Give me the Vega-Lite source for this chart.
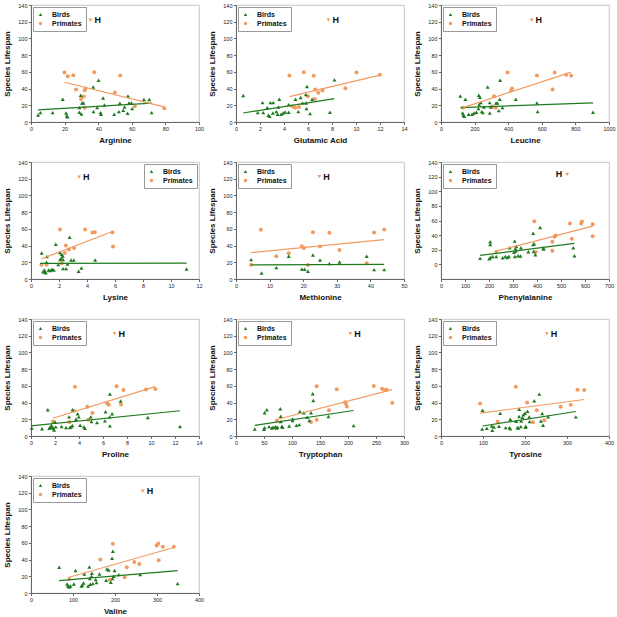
{
"$schema":"https://vega.github.io/schema/vega-lite/v6.json",
"padding":{"left":3,"top":2,"right":0,"bottom":0},
"background":"white",
"config":{
 "font":"Liberation Sans",
 "numberFormat":"d",
 "view":{"stroke":"#b8b8b8","strokeWidth":0.8},
 "axis":{"grid":false,"domainColor":"#666","tickColor":"#666","tickSize":2.5,"labelFontSize":5.5,"labelColor":"#222","labelFlush":false,"labelOverlap":false,"labelPadding":1.5,"titleFontSize":8,"titleFontWeight":"bold","titleColor":"#111"},
 "axisX":{"titlePadding":5},
 "axisY":{"titlePadding":6},
 "legend":{"strokeColor":"#999","fillColor":"white","padding":4,"labelFontSize":7,"labelFontWeight":"bold","labelColor":"#111","symbolSize":12,"rowPadding":1,"offset":2,"cornerRadius":0,"symbolOpacity":1,"labelOffset":8,"symbolStrokeWidth":0}
},
"datasets":{
"hum":[
{"panel":"Arginine","x":35.4,"y":122,"label":"H"},
{"panel":"Glutamic Acid","x":7.7,"y":122,"label":"H"},
{"panel":"Leucine","x":539,"y":122,"label":"H"},
{"panel":"Lysine","x":3.43,"y":122,"label":"H"},
{"panel":"Methionine","x":24.8,"y":122.5,"label":"H"},
{"panel":"Phenylalanine","x":526,"y":123,"label":"H"},
{"panel":"Proline","x":6.96,"y":122.5,"label":"H"},
{"panel":"Tryptophan","x":204,"y":122.5,"label":"H"},
{"panel":"Tyrosine","x":252,"y":122.3,"label":"H"},
{"panel":"Valine","x":266,"y":122,"label":"H"}
],
"trend":[
{"panel":"Arginine","group":"Birds","x":4.2,"y":14.5},{"panel":"Arginine","group":"Birds","x":72,"y":22.5},
{"panel":"Arginine","group":"Primates","x":19.9,"y":47.6},{"panel":"Arginine","group":"Primates","x":79.3,"y":18},
{"panel":"Glutamic Acid","group":"Birds","x":0.6,"y":10.8},{"panel":"Glutamic Acid","group":"Birds","x":8.2,"y":28},
{"panel":"Glutamic Acid","group":"Primates","x":4.45,"y":30.4},{"panel":"Glutamic Acid","group":"Primates","x":12,"y":56},
{"panel":"Leucine","group":"Birds","x":115,"y":17.2},{"panel":"Leucine","group":"Birds","x":905,"y":22.8},
{"panel":"Leucine","group":"Primates","x":131,"y":17.2},{"panel":"Leucine","group":"Primates","x":775,"y":59.6},
{"panel":"Lysine","group":"Birds","x":0.64,"y":18.6},{"panel":"Lysine","group":"Birds","x":11.11,"y":19},
{"panel":"Lysine","group":"Primates","x":0.74,"y":24},{"panel":"Lysine","group":"Primates","x":5.82,"y":56.8},
{"panel":"Methionine","group":"Birds","x":4.5,"y":16.8},{"panel":"Methionine","group":"Birds","x":44.1,"y":17.6},
{"panel":"Methionine","group":"Primates","x":4.5,"y":31.6},{"panel":"Methionine","group":"Primates","x":44.1,"y":47.2},
{"panel":"Phenylalanine","group":"Birds","x":163,"y":12.3},{"panel":"Phenylalanine","group":"Birds","x":556,"y":28.6},
{"panel":"Phenylalanine","group":"Primates","x":230,"y":18.2},{"panel":"Phenylalanine","group":"Primates","x":632,"y":52.3},
{"panel":"Proline","group":"Birds","x":0,"y":12},{"panel":"Proline","group":"Birds","x":12.42,"y":30.2},
{"panel":"Proline","group":"Primates","x":1.83,"y":21.3},{"panel":"Proline","group":"Primates","x":10.36,"y":59.1},
{"panel":"Tryptophan","group":"Birds","x":33.5,"y":12.8},{"panel":"Tryptophan","group":"Birds","x":210,"y":30.5},
{"panel":"Tryptophan","group":"Primates","x":73,"y":19.7},{"panel":"Tryptophan","group":"Primates","x":279,"y":55.4},
{"panel":"Tyrosine","group":"Birds","x":99,"y":12},{"panel":"Tyrosine","group":"Birds","x":321,"y":29.3},
{"panel":"Tyrosine","group":"Primates","x":93,"y":27.3},{"panel":"Tyrosine","group":"Primates","x":341,"y":43.7},
{"panel":"Valine","group":"Birds","x":67,"y":14.8},{"panel":"Valine","group":"Birds","x":349,"y":26.8},
{"panel":"Valine","group":"Primates","x":91,"y":18.8},{"panel":"Valine","group":"Primates","x":340,"y":54.4}
],
"pts":[
{"panel":"Arginine","group":"Primates","x":19.9,"y":59.2},{"panel":"Arginine","group":"Primates","x":21.9,"y":54.8},{"panel":"Arginine","group":"Primates","x":25.2,"y":56},{"panel":"Arginine","group":"Primates","x":26.8,"y":38.8},{"panel":"Arginine","group":"Primates","x":37.6,"y":59.6},{"panel":"Arginine","group":"Primates","x":29.8,"y":27.6},{"panel":"Arginine","group":"Primates","x":31.4,"y":30.4},{"panel":"Arginine","group":"Primates","x":32,"y":38},{"panel":"Arginine","group":"Primates","x":32.4,"y":40},{"panel":"Arginine","group":"Primates","x":32,"y":17.2},{"panel":"Arginine","group":"Primates","x":53.1,"y":55.6},{"panel":"Arginine","group":"Primates","x":49.9,"y":35.2},{"panel":"Arginine","group":"Primates","x":61.8,"y":18.8},{"panel":"Arginine","group":"Primates","x":79.3,"y":16.4},
{"panel":"Arginine","group":"Birds","x":4.2,"y":8.4},{"panel":"Arginine","group":"Birds","x":5.6,"y":11.2},{"panel":"Arginine","group":"Birds","x":12.9,"y":11.2},{"panel":"Arginine","group":"Birds","x":18.9,"y":27.2},{"panel":"Arginine","group":"Birds","x":20.9,"y":10.8},{"panel":"Arginine","group":"Birds","x":21.3,"y":7.6},{"panel":"Arginine","group":"Birds","x":21.7,"y":6.4},{"panel":"Arginine","group":"Birds","x":28.8,"y":11.6},{"panel":"Arginine","group":"Birds","x":29.6,"y":32},{"panel":"Arginine","group":"Birds","x":30,"y":9.6},{"panel":"Arginine","group":"Birds","x":30.4,"y":22.8},{"panel":"Arginine","group":"Birds","x":31.2,"y":22.8},{"panel":"Arginine","group":"Birds","x":28.8,"y":17.2},{"panel":"Arginine","group":"Birds","x":37,"y":42},{"panel":"Arginine","group":"Birds","x":37.2,"y":12.4},{"panel":"Arginine","group":"Birds","x":40.2,"y":50},{"panel":"Arginine","group":"Birds","x":39.4,"y":17.2},{"panel":"Arginine","group":"Birds","x":41.4,"y":11.2},{"panel":"Arginine","group":"Birds","x":41.7,"y":9.2},{"panel":"Arginine","group":"Birds","x":42.9,"y":28.8},{"panel":"Arginine","group":"Birds","x":43.7,"y":20.4},{"panel":"Arginine","group":"Birds","x":49.5,"y":9.2},{"panel":"Arginine","group":"Birds","x":52.3,"y":12.4},{"panel":"Arginine","group":"Birds","x":52.9,"y":22.4},{"panel":"Arginine","group":"Birds","x":54.9,"y":14},{"panel":"Arginine","group":"Birds","x":55.7,"y":18},{"panel":"Arginine","group":"Birds","x":57.7,"y":31.2},{"panel":"Arginine","group":"Birds","x":57.5,"y":10.4},{"panel":"Arginine","group":"Birds","x":58.3,"y":22.8},{"panel":"Arginine","group":"Birds","x":59.8,"y":22.8},{"panel":"Arginine","group":"Birds","x":60.2,"y":16},{"panel":"Arginine","group":"Birds","x":67.2,"y":26.8},{"panel":"Arginine","group":"Birds","x":70.4,"y":26.8},{"panel":"Arginine","group":"Birds","x":71.8,"y":11.2},
{"panel":"Glutamic Acid","group":"Primates","x":4.45,"y":55.6},{"panel":"Glutamic Acid","group":"Primates","x":5.65,"y":59.6},{"panel":"Glutamic Acid","group":"Primates","x":6.48,"y":55.2},{"panel":"Glutamic Acid","group":"Primates","x":10.04,"y":59.2},{"panel":"Glutamic Acid","group":"Primates","x":11.99,"y":56.4},{"panel":"Glutamic Acid","group":"Primates","x":9.12,"y":40.4},{"panel":"Glutamic Acid","group":"Primates","x":6.85,"y":35},{"panel":"Glutamic Acid","group":"Primates","x":6.6,"y":38.8},{"panel":"Glutamic Acid","group":"Primates","x":7.2,"y":37.6},{"panel":"Glutamic Acid","group":"Primates","x":6.0,"y":30.8},{"panel":"Glutamic Acid","group":"Primates","x":6.57,"y":27.6},{"panel":"Glutamic Acid","group":"Primates","x":4.68,"y":18.8},{"panel":"Glutamic Acid","group":"Primates","x":4.93,"y":17.2},{"panel":"Glutamic Acid","group":"Primates","x":5.25,"y":18},
{"panel":"Glutamic Acid","group":"Birds","x":0.6,"y":31.6},{"panel":"Glutamic Acid","group":"Birds","x":1.81,"y":11.2},{"panel":"Glutamic Acid","group":"Birds","x":2.21,"y":23.2},{"panel":"Glutamic Acid","group":"Birds","x":2.27,"y":11.2},{"panel":"Glutamic Acid","group":"Birds","x":2.61,"y":17.2},{"panel":"Glutamic Acid","group":"Birds","x":2.7,"y":8},{"panel":"Glutamic Acid","group":"Birds","x":2.81,"y":6.8},{"panel":"Glutamic Acid","group":"Birds","x":2.87,"y":23.2},{"panel":"Glutamic Acid","group":"Birds","x":3.1,"y":23.2},{"panel":"Glutamic Acid","group":"Birds","x":3.07,"y":10.8},{"panel":"Glutamic Acid","group":"Birds","x":3.36,"y":12.4},{"panel":"Glutamic Acid","group":"Birds","x":3.47,"y":9.2},{"panel":"Glutamic Acid","group":"Birds","x":3.53,"y":18},{"panel":"Glutamic Acid","group":"Birds","x":3.61,"y":27.2},{"panel":"Glutamic Acid","group":"Birds","x":3.76,"y":9.2},{"panel":"Glutamic Acid","group":"Birds","x":3.93,"y":10.8},{"panel":"Glutamic Acid","group":"Birds","x":4.1,"y":12},{"panel":"Glutamic Acid","group":"Birds","x":4.39,"y":11.6},{"panel":"Glutamic Acid","group":"Birds","x":4.39,"y":20.8},{"panel":"Glutamic Acid","group":"Birds","x":4.96,"y":27.2},{"panel":"Glutamic Acid","group":"Birds","x":5.19,"y":12.4},{"panel":"Glutamic Acid","group":"Birds","x":5.39,"y":29.2},{"panel":"Glutamic Acid","group":"Birds","x":5.54,"y":22.8},{"panel":"Glutamic Acid","group":"Birds","x":5.82,"y":32.8},{"panel":"Glutamic Acid","group":"Birds","x":5.91,"y":42.4},{"panel":"Glutamic Acid","group":"Birds","x":5.88,"y":16},{"panel":"Glutamic Acid","group":"Birds","x":5.85,"y":22.8},{"panel":"Glutamic Acid","group":"Birds","x":6.17,"y":10},{"panel":"Glutamic Acid","group":"Birds","x":6.34,"y":27.2},{"panel":"Glutamic Acid","group":"Birds","x":8.2,"y":50.4},{"panel":"Glutamic Acid","group":"Birds","x":7.83,"y":11.6},
{"panel":"Leucine","group":"Primates","x":131,"y":17.2},{"panel":"Leucine","group":"Primates","x":316,"y":30.8},{"panel":"Leucine","group":"Primates","x":306,"y":18.5},{"panel":"Leucine","group":"Primates","x":326,"y":17.2},{"panel":"Leucine","group":"Primates","x":396,"y":59.2},{"panel":"Leucine","group":"Primates","x":417,"y":37.6},{"panel":"Leucine","group":"Primates","x":423,"y":40},{"panel":"Leucine","group":"Primates","x":571,"y":55.6},{"panel":"Leucine","group":"Primates","x":676,"y":59.2},{"panel":"Leucine","group":"Primates","x":664,"y":38.8},{"panel":"Leucine","group":"Primates","x":746,"y":56.4},{"panel":"Leucine","group":"Primates","x":775,"y":55.2},
{"panel":"Leucine","group":"Birds","x":115,"y":31.2},{"panel":"Leucine","group":"Birds","x":145,"y":27.2},{"panel":"Leucine","group":"Birds","x":129,"y":10.8},{"panel":"Leucine","group":"Birds","x":133,"y":8},{"panel":"Leucine","group":"Birds","x":139,"y":6.8},{"panel":"Leucine","group":"Birds","x":165,"y":9.2},{"panel":"Leucine","group":"Birds","x":185,"y":9.2},{"panel":"Leucine","group":"Birds","x":197,"y":10.8},{"panel":"Leucine","group":"Birds","x":211,"y":11.6},{"panel":"Leucine","group":"Birds","x":223,"y":16},{"panel":"Leucine","group":"Birds","x":227,"y":20.8},{"panel":"Leucine","group":"Birds","x":225,"y":32},{"panel":"Leucine","group":"Birds","x":232,"y":29.6},{"panel":"Leucine","group":"Birds","x":237,"y":23.2},{"panel":"Leucine","group":"Birds","x":243,"y":12.4},{"panel":"Leucine","group":"Birds","x":249,"y":11.2},{"panel":"Leucine","group":"Birds","x":256,"y":18},{"panel":"Leucine","group":"Birds","x":278,"y":42},{"panel":"Leucine","group":"Birds","x":290,"y":23.2},{"panel":"Leucine","group":"Birds","x":296,"y":18},{"panel":"Leucine","group":"Birds","x":290,"y":10.8},{"panel":"Leucine","group":"Birds","x":328,"y":22.8},{"panel":"Leucine","group":"Birds","x":336,"y":22.8},{"panel":"Leucine","group":"Birds","x":344,"y":13.6},{"panel":"Leucine","group":"Birds","x":350,"y":27.2},{"panel":"Leucine","group":"Birds","x":352,"y":50},{"panel":"Leucine","group":"Birds","x":366,"y":17.2},{"panel":"Leucine","group":"Birds","x":445,"y":27.2},{"panel":"Leucine","group":"Birds","x":571,"y":22.8},{"panel":"Leucine","group":"Birds","x":575,"y":12.4},{"panel":"Leucine","group":"Birds","x":905,"y":11.6},
{"panel":"Lysine","group":"Primates","x":0.74,"y":17.2},{"panel":"Lysine","group":"Primates","x":1.11,"y":17.2},{"panel":"Lysine","group":"Primates","x":2.07,"y":59.2},{"panel":"Lysine","group":"Primates","x":2.19,"y":18.8},{"panel":"Lysine","group":"Primates","x":2.41,"y":31.2},{"panel":"Lysine","group":"Primates","x":2.49,"y":40},{"panel":"Lysine","group":"Primates","x":2.71,"y":35.2},{"panel":"Lysine","group":"Primates","x":3.08,"y":37.2},{"panel":"Lysine","group":"Primates","x":3.87,"y":59.2},{"panel":"Lysine","group":"Primates","x":4.39,"y":55.6},{"panel":"Lysine","group":"Primates","x":4.56,"y":56},{"panel":"Lysine","group":"Primates","x":5.82,"y":55.6},{"panel":"Lysine","group":"Primates","x":5.86,"y":38.8},
{"panel":"Lysine","group":"Birds","x":0.76,"y":31.2},{"panel":"Lysine","group":"Birds","x":0.86,"y":8.8},{"panel":"Lysine","group":"Birds","x":0.96,"y":10.8},{"panel":"Lysine","group":"Birds","x":1.01,"y":8.4},{"panel":"Lysine","group":"Birds","x":1.11,"y":20},{"panel":"Lysine","group":"Birds","x":1.13,"y":26.8},{"panel":"Lysine","group":"Birds","x":1.06,"y":7.6},{"panel":"Lysine","group":"Birds","x":1.26,"y":10.8},{"panel":"Lysine","group":"Birds","x":1.38,"y":10},{"panel":"Lysine","group":"Birds","x":1.5,"y":11.6},{"panel":"Lysine","group":"Birds","x":1.63,"y":10.8},{"panel":"Lysine","group":"Birds","x":1.77,"y":41.6},{"panel":"Lysine","group":"Birds","x":1.95,"y":17.2},{"panel":"Lysine","group":"Birds","x":2.07,"y":23.2},{"panel":"Lysine","group":"Birds","x":2.07,"y":31.6},{"panel":"Lysine","group":"Birds","x":2.19,"y":29.6},{"panel":"Lysine","group":"Birds","x":2.27,"y":27.6},{"panel":"Lysine","group":"Birds","x":2.17,"y":25.2},{"panel":"Lysine","group":"Birds","x":2.29,"y":23.2},{"panel":"Lysine","group":"Birds","x":2.29,"y":12.4},{"panel":"Lysine","group":"Birds","x":2.51,"y":12.4},{"panel":"Lysine","group":"Birds","x":2.61,"y":18},{"panel":"Lysine","group":"Birds","x":2.76,"y":50},{"panel":"Lysine","group":"Birds","x":2.86,"y":22.8},{"panel":"Lysine","group":"Birds","x":3.06,"y":22.8},{"panel":"Lysine","group":"Birds","x":3.4,"y":9.2},{"panel":"Lysine","group":"Birds","x":3.6,"y":13.2},{"panel":"Lysine","group":"Birds","x":4.58,"y":22.8},{"panel":"Lysine","group":"Birds","x":11.11,"y":12},
{"panel":"Methionine","group":"Primates","x":4.5,"y":17.2},{"panel":"Methionine","group":"Primates","x":7.4,"y":58.8},{"panel":"Methionine","group":"Primates","x":12,"y":27.2},{"panel":"Methionine","group":"Primates","x":15.7,"y":30.8},{"panel":"Methionine","group":"Primates","x":19.6,"y":39.2},{"panel":"Methionine","group":"Primates","x":20.2,"y":37.2},{"panel":"Methionine","group":"Primates","x":21.4,"y":16.8},{"panel":"Methionine","group":"Primates","x":22.9,"y":56},{"panel":"Methionine","group":"Primates","x":25,"y":38.8},{"panel":"Methionine","group":"Primates","x":27.8,"y":55.2},{"panel":"Methionine","group":"Primates","x":30.8,"y":34.8},{"panel":"Methionine","group":"Primates","x":38.9,"y":18.8},{"panel":"Methionine","group":"Primates","x":41.1,"y":55.6},{"panel":"Methionine","group":"Primates","x":44.1,"y":59.2},
{"panel":"Methionine","group":"Birds","x":4.5,"y":23.2},{"panel":"Methionine","group":"Birds","x":7.6,"y":7.2},{"panel":"Methionine","group":"Birds","x":12,"y":13.6},{"panel":"Methionine","group":"Birds","x":15.7,"y":27.2},{"panel":"Methionine","group":"Birds","x":19.6,"y":12},{"panel":"Methionine","group":"Birds","x":20.4,"y":11.6},{"panel":"Methionine","group":"Birds","x":21.4,"y":9.2},{"panel":"Methionine","group":"Birds","x":22.9,"y":28.8},{"panel":"Methionine","group":"Birds","x":25,"y":22.8},{"panel":"Methionine","group":"Birds","x":27.8,"y":18.4},{"panel":"Methionine","group":"Birds","x":30.8,"y":20.4},{"panel":"Methionine","group":"Birds","x":38.9,"y":27.2},{"panel":"Methionine","group":"Birds","x":41.1,"y":11.2},{"panel":"Methionine","group":"Birds","x":44.1,"y":11.2},
{"panel":"Phenylalanine","group":"Primates","x":230,"y":16.8},{"panel":"Phenylalanine","group":"Primates","x":389,"y":59.1},{"panel":"Phenylalanine","group":"Primates","x":395,"y":16.8},{"panel":"Phenylalanine","group":"Primates","x":464,"y":30.9},{"panel":"Phenylalanine","group":"Primates","x":464,"y":18.6},{"panel":"Phenylalanine","group":"Primates","x":473,"y":37.7},{"panel":"Phenylalanine","group":"Primates","x":478,"y":39.5},{"panel":"Phenylalanine","group":"Primates","x":537,"y":55.9},{"panel":"Phenylalanine","group":"Primates","x":545,"y":35},{"panel":"Phenylalanine","group":"Primates","x":584,"y":55.9},{"panel":"Phenylalanine","group":"Primates","x":587,"y":58.6},{"panel":"Phenylalanine","group":"Primates","x":632,"y":55},{"panel":"Phenylalanine","group":"Primates","x":632,"y":38.6},
{"panel":"Phenylalanine","group":"Birds","x":163,"y":8.2},{"panel":"Phenylalanine","group":"Birds","x":201,"y":7.7},{"panel":"Phenylalanine","group":"Birds","x":205,"y":9.5},{"panel":"Phenylalanine","group":"Birds","x":205,"y":30.9},{"panel":"Phenylalanine","group":"Birds","x":205,"y":27.3},{"panel":"Phenylalanine","group":"Birds","x":215,"y":10.9},{"panel":"Phenylalanine","group":"Birds","x":230,"y":10.9},{"panel":"Phenylalanine","group":"Birds","x":257,"y":9.1},{"panel":"Phenylalanine","group":"Birds","x":268,"y":10.9},{"panel":"Phenylalanine","group":"Birds","x":276,"y":9.5},{"panel":"Phenylalanine","group":"Birds","x":283,"y":10.9},{"panel":"Phenylalanine","group":"Birds","x":286,"y":22.7},{"panel":"Phenylalanine","group":"Birds","x":304,"y":16.4},{"panel":"Phenylalanine","group":"Birds","x":307,"y":31.8},{"panel":"Phenylalanine","group":"Birds","x":308,"y":10.9},{"panel":"Phenylalanine","group":"Birds","x":310,"y":21.4},{"panel":"Phenylalanine","group":"Birds","x":312,"y":18.2},{"panel":"Phenylalanine","group":"Birds","x":314,"y":24.5},{"panel":"Phenylalanine","group":"Birds","x":321,"y":11.8},{"panel":"Phenylalanine","group":"Birds","x":331,"y":11.4},{"panel":"Phenylalanine","group":"Birds","x":333,"y":22.7},{"panel":"Phenylalanine","group":"Birds","x":364,"y":17.3},{"panel":"Phenylalanine","group":"Birds","x":384,"y":27.3},{"panel":"Phenylalanine","group":"Birds","x":388,"y":28.2},{"panel":"Phenylalanine","group":"Birds","x":384,"y":42.7},{"panel":"Phenylalanine","group":"Birds","x":386,"y":17.7},{"panel":"Phenylalanine","group":"Birds","x":393,"y":13.2},{"panel":"Phenylalanine","group":"Birds","x":413,"y":50.5},{"panel":"Phenylalanine","group":"Birds","x":427,"y":22.3},{"panel":"Phenylalanine","group":"Birds","x":427,"y":20.9},{"panel":"Phenylalanine","group":"Birds","x":551,"y":22.7},{"panel":"Phenylalanine","group":"Birds","x":556,"y":11.8},
{"panel":"Proline","group":"Primates","x":1.83,"y":17.3},{"panel":"Proline","group":"Primates","x":3.66,"y":59},{"panel":"Proline","group":"Primates","x":3.58,"y":30.2},{"panel":"Proline","group":"Primates","x":3.2,"y":16.9},{"panel":"Proline","group":"Primates","x":4.7,"y":35},{"panel":"Proline","group":"Primates","x":4.78,"y":19.3},{"panel":"Proline","group":"Primates","x":5.12,"y":27.4},{"panel":"Proline","group":"Primates","x":6.33,"y":39.4},{"panel":"Proline","group":"Primates","x":6.47,"y":37.4},{"panel":"Proline","group":"Primates","x":7.13,"y":59.5},{"panel":"Proline","group":"Primates","x":7.5,"y":37.8},{"panel":"Proline","group":"Primates","x":7.7,"y":55.1},{"panel":"Proline","group":"Primates","x":9.59,"y":55.5},{"panel":"Proline","group":"Primates","x":10.36,"y":56.3},
{"panel":"Proline","group":"Birds","x":0.06,"y":9.7},{"panel":"Proline","group":"Birds","x":0.92,"y":8.8},{"panel":"Proline","group":"Birds","x":1.4,"y":31.4},{"panel":"Proline","group":"Birds","x":1.52,"y":9.3},{"panel":"Proline","group":"Birds","x":1.6,"y":10.5},{"panel":"Proline","group":"Birds","x":1.69,"y":12.5},{"panel":"Proline","group":"Birds","x":1.77,"y":10.9},{"panel":"Proline","group":"Birds","x":1.86,"y":9.3},{"panel":"Proline","group":"Birds","x":1.92,"y":7.2},{"panel":"Proline","group":"Birds","x":2.0,"y":16.9},{"panel":"Proline","group":"Birds","x":2.06,"y":10.9},{"panel":"Proline","group":"Birds","x":2.55,"y":11.3},{"panel":"Proline","group":"Birds","x":2.92,"y":10.1},{"panel":"Proline","group":"Birds","x":3.18,"y":22.9},{"panel":"Proline","group":"Birds","x":3.23,"y":10.1},{"panel":"Proline","group":"Birds","x":3.35,"y":10.9},{"panel":"Proline","group":"Birds","x":3.46,"y":31.4},{"panel":"Proline","group":"Birds","x":3.44,"y":12.5},{"panel":"Proline","group":"Birds","x":3.75,"y":20.1},{"panel":"Proline","group":"Birds","x":3.89,"y":26.5},{"panel":"Proline","group":"Birds","x":3.98,"y":22.9},{"panel":"Proline","group":"Birds","x":4.09,"y":12.9},{"panel":"Proline","group":"Birds","x":4.41,"y":10.9},{"panel":"Proline","group":"Birds","x":4.49,"y":9.3},{"panel":"Proline","group":"Birds","x":4.98,"y":22.9},{"panel":"Proline","group":"Birds","x":5.04,"y":17.3},{"panel":"Proline","group":"Birds","x":5.5,"y":16.1},{"panel":"Proline","group":"Birds","x":6.16,"y":18.1},{"panel":"Proline","group":"Birds","x":6.21,"y":29},{"panel":"Proline","group":"Birds","x":6.56,"y":22.9},{"panel":"Proline","group":"Birds","x":6.58,"y":50.3},{"panel":"Proline","group":"Birds","x":6.58,"y":12.1},{"panel":"Proline","group":"Birds","x":6.76,"y":26.5},{"panel":"Proline","group":"Birds","x":7.47,"y":41.8},{"panel":"Proline","group":"Birds","x":9.73,"y":22.1},{"panel":"Proline","group":"Birds","x":12.42,"y":11.3},
{"panel":"Tryptophan","group":"Primates","x":73,"y":18.5},{"panel":"Tryptophan","group":"Primates","x":144,"y":59.4},{"panel":"Tryptophan","group":"Primates","x":144,"y":19.3},{"panel":"Tryptophan","group":"Primates","x":134,"y":16.8},{"panel":"Tryptophan","group":"Primates","x":166,"y":30.9},{"panel":"Tryptophan","group":"Primates","x":180,"y":55.8},{"panel":"Tryptophan","group":"Primates","x":195,"y":40.5},{"panel":"Tryptophan","group":"Primates","x":196,"y":38.9},{"panel":"Tryptophan","group":"Primates","x":198,"y":35.3},{"panel":"Tryptophan","group":"Primates","x":246,"y":59.8},{"panel":"Tryptophan","group":"Primates","x":261,"y":56.6},{"panel":"Tryptophan","group":"Primates","x":266,"y":55},{"panel":"Tryptophan","group":"Primates","x":269,"y":55.4},{"panel":"Tryptophan","group":"Primates","x":279,"y":39.7},
{"panel":"Tryptophan","group":"Birds","x":33.5,"y":8.4},{"panel":"Tryptophan","group":"Birds","x":51,"y":10},{"panel":"Tryptophan","group":"Birds","x":50,"y":8},{"panel":"Tryptophan","group":"Birds","x":51,"y":27.7},{"panel":"Tryptophan","group":"Birds","x":55,"y":31.3},{"panel":"Tryptophan","group":"Birds","x":59,"y":11.2},{"panel":"Tryptophan","group":"Birds","x":64,"y":9.6},{"panel":"Tryptophan","group":"Birds","x":66,"y":10.4},{"panel":"Tryptophan","group":"Birds","x":70,"y":11.2},{"panel":"Tryptophan","group":"Birds","x":72,"y":9.6},{"panel":"Tryptophan","group":"Birds","x":74,"y":10.4},{"panel":"Tryptophan","group":"Birds","x":79,"y":32.5},{"panel":"Tryptophan","group":"Birds","x":80,"y":23.7},{"panel":"Tryptophan","group":"Birds","x":80,"y":17.2},{"panel":"Tryptophan","group":"Birds","x":82,"y":11.6},{"panel":"Tryptophan","group":"Birds","x":83,"y":10.4},{"panel":"Tryptophan","group":"Birds","x":95,"y":12},{"panel":"Tryptophan","group":"Birds","x":101,"y":20.5},{"panel":"Tryptophan","group":"Birds","x":101,"y":18.5},{"panel":"Tryptophan","group":"Birds","x":108,"y":12.8},{"panel":"Tryptophan","group":"Birds","x":113,"y":13.6},{"panel":"Tryptophan","group":"Birds","x":114,"y":29.3},{"panel":"Tryptophan","group":"Birds","x":121,"y":27.7},{"panel":"Tryptophan","group":"Birds","x":127,"y":22.5},{"panel":"Tryptophan","group":"Birds","x":131,"y":18.5},{"panel":"Tryptophan","group":"Birds","x":134,"y":27.7},{"panel":"Tryptophan","group":"Birds","x":137,"y":50.5},{"panel":"Tryptophan","group":"Birds","x":138,"y":42.5},{"panel":"Tryptophan","group":"Birds","x":165,"y":23.3},{"panel":"Tryptophan","group":"Birds","x":210,"y":12.4},
{"panel":"Tyrosine","group":"Primates","x":93,"y":38.9},{"panel":"Tyrosine","group":"Primates","x":135,"y":17.2},{"panel":"Tyrosine","group":"Primates","x":178,"y":59},{"panel":"Tyrosine","group":"Primates","x":205,"y":40.1},{"panel":"Tyrosine","group":"Primates","x":228,"y":30.9},{"panel":"Tyrosine","group":"Primates","x":219,"y":16.4},{"panel":"Tyrosine","group":"Primates","x":246,"y":18.9},{"panel":"Tyrosine","group":"Primates","x":285,"y":34.9},{"panel":"Tyrosine","group":"Primates","x":309,"y":37.3},{"panel":"Tyrosine","group":"Primates","x":325,"y":55.4},{"panel":"Tyrosine","group":"Primates","x":341,"y":55},
{"panel":"Tyrosine","group":"Birds","x":99,"y":30.9},{"panel":"Tyrosine","group":"Birds","x":98,"y":8.4},{"panel":"Tyrosine","group":"Birds","x":109,"y":9.2},{"panel":"Tyrosine","group":"Birds","x":121,"y":12},{"panel":"Tyrosine","group":"Birds","x":122,"y":6.8},{"panel":"Tyrosine","group":"Birds","x":126,"y":10.8},{"panel":"Tyrosine","group":"Birds","x":141,"y":27.3},{"panel":"Tyrosine","group":"Birds","x":138,"y":11.6},{"panel":"Tyrosine","group":"Birds","x":154,"y":10},{"panel":"Tyrosine","group":"Birds","x":163,"y":10},{"panel":"Tyrosine","group":"Birds","x":165,"y":20.1},{"panel":"Tyrosine","group":"Birds","x":165,"y":8.8},{"panel":"Tyrosine","group":"Birds","x":179,"y":17.6},{"panel":"Tyrosine","group":"Birds","x":182,"y":10},{"panel":"Tyrosine","group":"Birds","x":184,"y":9.6},{"panel":"Tyrosine","group":"Birds","x":186,"y":32.1},{"panel":"Tyrosine","group":"Birds","x":186,"y":23.3},{"panel":"Tyrosine","group":"Birds","x":190,"y":11.2},{"panel":"Tyrosine","group":"Birds","x":191,"y":18},{"panel":"Tyrosine","group":"Birds","x":194,"y":22.1},{"panel":"Tyrosine","group":"Birds","x":196,"y":25.3},{"panel":"Tyrosine","group":"Birds","x":200,"y":27.3},{"panel":"Tyrosine","group":"Birds","x":201,"y":10.4},{"panel":"Tyrosine","group":"Birds","x":202,"y":11.6},{"panel":"Tyrosine","group":"Birds","x":206,"y":29.7},{"panel":"Tyrosine","group":"Birds","x":210,"y":22.9},{"panel":"Tyrosine","group":"Birds","x":211,"y":17.2},{"panel":"Tyrosine","group":"Birds","x":222,"y":42.1},{"panel":"Tyrosine","group":"Birds","x":234,"y":50.1},{"panel":"Tyrosine","group":"Birds","x":238,"y":18},{"panel":"Tyrosine","group":"Birds","x":241,"y":26.9},{"panel":"Tyrosine","group":"Birds","x":243,"y":12.8},{"panel":"Tyrosine","group":"Birds","x":255,"y":22.9},{"panel":"Tyrosine","group":"Birds","x":321,"y":22.9},
{"panel":"Valine","group":"Primates","x":91,"y":16.8},{"panel":"Valine","group":"Primates","x":165,"y":40},{"panel":"Valine","group":"Primates","x":195,"y":58.8},{"panel":"Valine","group":"Primates","x":188,"y":16},{"panel":"Valine","group":"Primates","x":228,"y":30.8},{"panel":"Valine","group":"Primates","x":223,"y":18.8},{"panel":"Valine","group":"Primates","x":246,"y":37.2},{"panel":"Valine","group":"Primates","x":258,"y":34.8},{"panel":"Valine","group":"Primates","x":299,"y":56.8},{"panel":"Valine","group":"Primates","x":303,"y":59.2},{"panel":"Valine","group":"Primates","x":304,"y":39.2},{"panel":"Valine","group":"Primates","x":314,"y":55.2},{"panel":"Valine","group":"Primates","x":340,"y":55.2},
{"panel":"Valine","group":"Birds","x":67,"y":30.8},{"panel":"Valine","group":"Birds","x":86,"y":10.8},{"panel":"Valine","group":"Birds","x":88,"y":8.4},{"panel":"Valine","group":"Birds","x":91,"y":7.2},{"panel":"Valine","group":"Birds","x":94,"y":8.4},{"panel":"Valine","group":"Birds","x":102,"y":10.8},{"panel":"Valine","group":"Birds","x":106,"y":26.8},{"panel":"Valine","group":"Birds","x":120,"y":8.4},{"panel":"Valine","group":"Birds","x":122,"y":9.6},{"panel":"Valine","group":"Birds","x":125,"y":12},{"panel":"Valine","group":"Birds","x":127,"y":22.8},{"panel":"Valine","group":"Birds","x":136,"y":8.4},{"panel":"Valine","group":"Birds","x":139,"y":31.2},{"panel":"Valine","group":"Birds","x":140,"y":17.2},{"panel":"Valine","group":"Birds","x":141,"y":10.4},{"panel":"Valine","group":"Birds","x":144,"y":20},{"panel":"Valine","group":"Birds","x":145,"y":23.6},{"panel":"Valine","group":"Birds","x":147,"y":11.2},{"panel":"Valine","group":"Birds","x":154,"y":16},{"panel":"Valine","group":"Birds","x":156,"y":12.4},{"panel":"Valine","group":"Birds","x":163,"y":22.8},{"panel":"Valine","group":"Birds","x":179,"y":15.2},{"panel":"Valine","group":"Birds","x":181,"y":28.8},{"panel":"Valine","group":"Birds","x":185,"y":27.6},{"panel":"Valine","group":"Birds","x":190,"y":12.8},{"panel":"Valine","group":"Birds","x":193,"y":41.6},{"panel":"Valine","group":"Birds","x":195,"y":50},{"panel":"Valine","group":"Birds","x":194,"y":17.2},{"panel":"Valine","group":"Birds","x":197,"y":20},{"panel":"Valine","group":"Birds","x":199,"y":26.8},{"panel":"Valine","group":"Birds","x":209,"y":22},{"panel":"Valine","group":"Birds","x":260,"y":22},{"panel":"Valine","group":"Birds","x":349,"y":11.2}
]
},
"columns":3,
"bounds":"flush",
"spacing":{"row":40,"column":37},
"resolve":{"legend":{"color":"independent","shape":"independent"}},
"concat":[
{"width":168,"height":117,"layer":[
 {"data":{"name":"pts"},"transform":[{"filter":"datum.panel==='Arginine'"}],"mark":{"type":"point","filled":true,"opacity":1,"size":16},"encoding":{"x":{"field":"x","type":"quantitative","scale":{"domain":[0,100],"nice":false},"axis":{"values":[0,20,40,60,80,100],"tickCount":20,"format":"d","labelOverlap":false,"title":"Arginine"}},"y":{"field":"y","type":"quantitative","scale":{"domain":[0,140],"nice":false},"axis":{"values":[0,20,40,60,80,100,120,140],"tickCount":20,"format":"d","labelOverlap":false,"title":"Species Lifespan"}},"color":{"field":"group","type":"nominal","scale":{"domain":["Birds","Primates"],"range":["#1f7a1f","#f29a5f"]},"legend":{"orient":"top-left","title":null}},"shape":{"field":"group","type":"nominal","scale":{"domain":["Birds","Primates"],"range":["triangle-up","circle"]},"legend":{"orient":"top-left","title":null}}}},
 {"data":{"name":"trend"},"transform":[{"filter":"datum.panel==='Arginine'"}],"mark":{"type":"line","strokeWidth":1.2},"encoding":{"x":{"field":"x","type":"quantitative"},"y":{"field":"y","type":"quantitative"},"color":{"field":"group","type":"nominal","legend":null}}},
 {"data":{"name":"hum"},"transform":[{"filter":"datum.panel==='Arginine'"}],"mark":{"type":"point","shape":"triangle-down","filled":true,"color":"#f29a5f","size":14,"opacity":1},"encoding":{"x":{"field":"x","type":"quantitative"},"y":{"field":"y","type":"quantitative"}}},
 {"data":{"name":"hum"},"transform":[{"filter":"datum.panel==='Arginine'"}],"mark":{"type":"text","align":"left","dx":4,"fontSize":9,"fontWeight":"bold","baseline":"middle","color":"#111"},"encoding":{"x":{"field":"x","type":"quantitative"},"y":{"field":"y","type":"quantitative"},"text":{"field":"label"}}}
]},
{"width":168,"height":117,"layer":[
 {"data":{"name":"pts"},"transform":[{"filter":"datum.panel==='Glutamic Acid'"}],"mark":{"type":"point","filled":true,"opacity":1,"size":16},"encoding":{"x":{"field":"x","type":"quantitative","scale":{"domain":[0,14],"nice":false},"axis":{"values":[0,2,4,6,8,10,12,14],"tickCount":20,"format":"d","labelOverlap":false,"title":"Glutamic Acid"}},"y":{"field":"y","type":"quantitative","scale":{"domain":[0,140],"nice":false},"axis":{"values":[0,20,40,60,80,100,120,140],"tickCount":20,"format":"d","labelOverlap":false,"title":"Species Lifespan"}},"color":{"field":"group","type":"nominal","scale":{"domain":["Birds","Primates"],"range":["#1f7a1f","#f29a5f"]},"legend":{"orient":"top-left","title":null}},"shape":{"field":"group","type":"nominal","scale":{"domain":["Birds","Primates"],"range":["triangle-up","circle"]},"legend":{"orient":"top-left","title":null}}}},
 {"data":{"name":"trend"},"transform":[{"filter":"datum.panel==='Glutamic Acid'"}],"mark":{"type":"line","strokeWidth":1.2},"encoding":{"x":{"field":"x","type":"quantitative"},"y":{"field":"y","type":"quantitative"},"color":{"field":"group","type":"nominal","legend":null}}},
 {"data":{"name":"hum"},"transform":[{"filter":"datum.panel==='Glutamic Acid'"}],"mark":{"type":"point","shape":"triangle-down","filled":true,"color":"#f29a5f","size":14,"opacity":1},"encoding":{"x":{"field":"x","type":"quantitative"},"y":{"field":"y","type":"quantitative"}}},
 {"data":{"name":"hum"},"transform":[{"filter":"datum.panel==='Glutamic Acid'"}],"mark":{"type":"text","align":"left","dx":4,"fontSize":9,"fontWeight":"bold","baseline":"middle","color":"#111"},"encoding":{"x":{"field":"x","type":"quantitative"},"y":{"field":"y","type":"quantitative"},"text":{"field":"label"}}}
]},
{"width":168,"height":117,"layer":[
 {"data":{"name":"pts"},"transform":[{"filter":"datum.panel==='Leucine'"}],"mark":{"type":"point","filled":true,"opacity":1,"size":16},"encoding":{"x":{"field":"x","type":"quantitative","scale":{"domain":[0,1000],"nice":false},"axis":{"values":[0,200,400,600,800,1000],"tickCount":20,"format":"d","labelOverlap":false,"title":"Leucine"}},"y":{"field":"y","type":"quantitative","scale":{"domain":[0,140],"nice":false},"axis":{"values":[0,20,40,60,80,100,120,140],"tickCount":20,"format":"d","labelOverlap":false,"title":"Species Lifespan"}},"color":{"field":"group","type":"nominal","scale":{"domain":["Birds","Primates"],"range":["#1f7a1f","#f29a5f"]},"legend":{"orient":"top-left","title":null}},"shape":{"field":"group","type":"nominal","scale":{"domain":["Birds","Primates"],"range":["triangle-up","circle"]},"legend":{"orient":"top-left","title":null}}}},
 {"data":{"name":"trend"},"transform":[{"filter":"datum.panel==='Leucine'"}],"mark":{"type":"line","strokeWidth":1.2},"encoding":{"x":{"field":"x","type":"quantitative"},"y":{"field":"y","type":"quantitative"},"color":{"field":"group","type":"nominal","legend":null}}},
 {"data":{"name":"hum"},"transform":[{"filter":"datum.panel==='Leucine'"}],"mark":{"type":"point","shape":"triangle-down","filled":true,"color":"#f29a5f","size":14,"opacity":1},"encoding":{"x":{"field":"x","type":"quantitative"},"y":{"field":"y","type":"quantitative"}}},
 {"data":{"name":"hum"},"transform":[{"filter":"datum.panel==='Leucine'"}],"mark":{"type":"text","align":"left","dx":4,"fontSize":9,"fontWeight":"bold","baseline":"middle","color":"#111"},"encoding":{"x":{"field":"x","type":"quantitative"},"y":{"field":"y","type":"quantitative"},"text":{"field":"label"}}}
]},
{"width":168,"height":117,"layer":[
 {"data":{"name":"pts"},"transform":[{"filter":"datum.panel==='Lysine'"}],"mark":{"type":"point","filled":true,"opacity":1,"size":16},"encoding":{"x":{"field":"x","type":"quantitative","scale":{"domain":[0,12],"nice":false},"axis":{"values":[0,2,4,6,8,10,12],"tickCount":20,"format":"d","labelOverlap":false,"title":"Lysine"}},"y":{"field":"y","type":"quantitative","scale":{"domain":[0,140],"nice":false},"axis":{"values":[0,20,40,60,80,100,120,140],"tickCount":20,"format":"d","labelOverlap":false,"title":"Species Lifespan"}},"color":{"field":"group","type":"nominal","scale":{"domain":["Birds","Primates"],"range":["#1f7a1f","#f29a5f"]},"legend":{"orient":"top-right","title":null}},"shape":{"field":"group","type":"nominal","scale":{"domain":["Birds","Primates"],"range":["triangle-up","circle"]},"legend":{"orient":"top-right","title":null}}}},
 {"data":{"name":"trend"},"transform":[{"filter":"datum.panel==='Lysine'"}],"mark":{"type":"line","strokeWidth":1.2},"encoding":{"x":{"field":"x","type":"quantitative"},"y":{"field":"y","type":"quantitative"},"color":{"field":"group","type":"nominal","legend":null}}},
 {"data":{"name":"hum"},"transform":[{"filter":"datum.panel==='Lysine'"}],"mark":{"type":"point","shape":"triangle-down","filled":true,"color":"#f29a5f","size":14,"opacity":1},"encoding":{"x":{"field":"x","type":"quantitative"},"y":{"field":"y","type":"quantitative"}}},
 {"data":{"name":"hum"},"transform":[{"filter":"datum.panel==='Lysine'"}],"mark":{"type":"text","align":"left","dx":4,"fontSize":9,"fontWeight":"bold","baseline":"middle","color":"#111"},"encoding":{"x":{"field":"x","type":"quantitative"},"y":{"field":"y","type":"quantitative"},"text":{"field":"label"}}}
]},
{"width":168,"height":117,"layer":[
 {"data":{"name":"pts"},"transform":[{"filter":"datum.panel==='Methionine'"}],"mark":{"type":"point","filled":true,"opacity":1,"size":16},"encoding":{"x":{"field":"x","type":"quantitative","scale":{"domain":[0,50],"nice":false},"axis":{"values":[0,10,20,30,40,50],"tickCount":20,"format":"d","labelOverlap":false,"title":"Methionine"}},"y":{"field":"y","type":"quantitative","scale":{"domain":[0,140],"nice":false},"axis":{"values":[0,20,40,60,80,100,120,140],"tickCount":20,"format":"d","labelOverlap":false,"title":"Species Lifespan"}},"color":{"field":"group","type":"nominal","scale":{"domain":["Birds","Primates"],"range":["#1f7a1f","#f29a5f"]},"legend":{"orient":"top-left","title":null}},"shape":{"field":"group","type":"nominal","scale":{"domain":["Birds","Primates"],"range":["triangle-up","circle"]},"legend":{"orient":"top-left","title":null}}}},
 {"data":{"name":"trend"},"transform":[{"filter":"datum.panel==='Methionine'"}],"mark":{"type":"line","strokeWidth":1.2},"encoding":{"x":{"field":"x","type":"quantitative"},"y":{"field":"y","type":"quantitative"},"color":{"field":"group","type":"nominal","legend":null}}},
 {"data":{"name":"hum"},"transform":[{"filter":"datum.panel==='Methionine'"}],"mark":{"type":"point","shape":"triangle-down","filled":true,"color":"#f29a5f","size":14,"opacity":1},"encoding":{"x":{"field":"x","type":"quantitative"},"y":{"field":"y","type":"quantitative"}}},
 {"data":{"name":"hum"},"transform":[{"filter":"datum.panel==='Methionine'"}],"mark":{"type":"text","align":"left","dx":4,"fontSize":9,"fontWeight":"bold","baseline":"middle","color":"#111"},"encoding":{"x":{"field":"x","type":"quantitative"},"y":{"field":"y","type":"quantitative"},"text":{"field":"label"}}}
]},
{"width":168,"height":117,"layer":[
 {"data":{"name":"pts"},"transform":[{"filter":"datum.panel==='Phenylalanine'"}],"mark":{"type":"point","filled":true,"opacity":1,"size":16},"encoding":{"x":{"field":"x","type":"quantitative","scale":{"domain":[0,700],"nice":false},"axis":{"values":[0,100,200,300,400,500,600,700],"tickCount":20,"format":"d","labelOverlap":false,"title":"Phenylalanine"}},"y":{"field":"y","type":"quantitative","scale":{"domain":[-20,140],"nice":false},"axis":{"values":[0,20,40,60,80,100,120,140],"tickCount":20,"format":"d","labelOverlap":false,"title":"Species Lifespan"}},"color":{"field":"group","type":"nominal","scale":{"domain":["Birds","Primates"],"range":["#1f7a1f","#f29a5f"]},"legend":{"orient":"top-left","title":null}},"shape":{"field":"group","type":"nominal","scale":{"domain":["Birds","Primates"],"range":["triangle-up","circle"]},"legend":{"orient":"top-left","title":null}}}},
 {"data":{"name":"trend"},"transform":[{"filter":"datum.panel==='Phenylalanine'"}],"mark":{"type":"line","strokeWidth":1.2},"encoding":{"x":{"field":"x","type":"quantitative"},"y":{"field":"y","type":"quantitative"},"color":{"field":"group","type":"nominal","legend":null}}},
 {"data":{"name":"hum"},"transform":[{"filter":"datum.panel==='Phenylalanine'"}],"mark":{"type":"point","shape":"triangle-down","filled":true,"color":"#f29a5f","size":14,"opacity":1},"encoding":{"x":{"field":"x","type":"quantitative"},"y":{"field":"y","type":"quantitative"}}},
 {"data":{"name":"hum"},"transform":[{"filter":"datum.panel==='Phenylalanine'"}],"mark":{"type":"text","align":"right","dx":-5,"fontSize":9,"fontWeight":"bold","baseline":"middle","color":"#111"},"encoding":{"x":{"field":"x","type":"quantitative"},"y":{"field":"y","type":"quantitative"},"text":{"field":"label"}}}
]},
{"width":168,"height":117,"layer":[
 {"data":{"name":"pts"},"transform":[{"filter":"datum.panel==='Proline'"}],"mark":{"type":"point","filled":true,"opacity":1,"size":16},"encoding":{"x":{"field":"x","type":"quantitative","scale":{"domain":[0,14],"nice":false},"axis":{"values":[0,2,4,6,8,10,12,14],"tickCount":20,"format":"d","labelOverlap":false,"title":"Proline"}},"y":{"field":"y","type":"quantitative","scale":{"domain":[0,140],"nice":false},"axis":{"values":[0,20,40,60,80,100,120,140],"tickCount":20,"format":"d","labelOverlap":false,"title":"Species Lifespan"}},"color":{"field":"group","type":"nominal","scale":{"domain":["Birds","Primates"],"range":["#1f7a1f","#f29a5f"]},"legend":{"orient":"top-left","title":null}},"shape":{"field":"group","type":"nominal","scale":{"domain":["Birds","Primates"],"range":["triangle-up","circle"]},"legend":{"orient":"top-left","title":null}}}},
 {"data":{"name":"trend"},"transform":[{"filter":"datum.panel==='Proline'"}],"mark":{"type":"line","strokeWidth":1.2},"encoding":{"x":{"field":"x","type":"quantitative"},"y":{"field":"y","type":"quantitative"},"color":{"field":"group","type":"nominal","legend":null}}},
 {"data":{"name":"hum"},"transform":[{"filter":"datum.panel==='Proline'"}],"mark":{"type":"point","shape":"triangle-down","filled":true,"color":"#f29a5f","size":14,"opacity":1},"encoding":{"x":{"field":"x","type":"quantitative"},"y":{"field":"y","type":"quantitative"}}},
 {"data":{"name":"hum"},"transform":[{"filter":"datum.panel==='Proline'"}],"mark":{"type":"text","align":"left","dx":4,"fontSize":9,"fontWeight":"bold","baseline":"middle","color":"#111"},"encoding":{"x":{"field":"x","type":"quantitative"},"y":{"field":"y","type":"quantitative"},"text":{"field":"label"}}}
]},
{"width":168,"height":117,"layer":[
 {"data":{"name":"pts"},"transform":[{"filter":"datum.panel==='Tryptophan'"}],"mark":{"type":"point","filled":true,"opacity":1,"size":16},"encoding":{"x":{"field":"x","type":"quantitative","scale":{"domain":[0,300],"nice":false},"axis":{"values":[0,50,100,150,200,250,300],"tickCount":20,"format":"d","labelOverlap":false,"title":"Tryptophan"}},"y":{"field":"y","type":"quantitative","scale":{"domain":[0,140],"nice":false},"axis":{"values":[0,20,40,60,80,100,120,140],"tickCount":20,"format":"d","labelOverlap":false,"title":"Species Lifespan"}},"color":{"field":"group","type":"nominal","scale":{"domain":["Birds","Primates"],"range":["#1f7a1f","#f29a5f"]},"legend":{"orient":"top-left","title":null}},"shape":{"field":"group","type":"nominal","scale":{"domain":["Birds","Primates"],"range":["triangle-up","circle"]},"legend":{"orient":"top-left","title":null}}}},
 {"data":{"name":"trend"},"transform":[{"filter":"datum.panel==='Tryptophan'"}],"mark":{"type":"line","strokeWidth":1.2},"encoding":{"x":{"field":"x","type":"quantitative"},"y":{"field":"y","type":"quantitative"},"color":{"field":"group","type":"nominal","legend":null}}},
 {"data":{"name":"hum"},"transform":[{"filter":"datum.panel==='Tryptophan'"}],"mark":{"type":"point","shape":"triangle-down","filled":true,"color":"#f29a5f","size":14,"opacity":1},"encoding":{"x":{"field":"x","type":"quantitative"},"y":{"field":"y","type":"quantitative"}}},
 {"data":{"name":"hum"},"transform":[{"filter":"datum.panel==='Tryptophan'"}],"mark":{"type":"text","align":"left","dx":4,"fontSize":9,"fontWeight":"bold","baseline":"middle","color":"#111"},"encoding":{"x":{"field":"x","type":"quantitative"},"y":{"field":"y","type":"quantitative"},"text":{"field":"label"}}}
]},
{"width":168,"height":117,"layer":[
 {"data":{"name":"pts"},"transform":[{"filter":"datum.panel==='Tyrosine'"}],"mark":{"type":"point","filled":true,"opacity":1,"size":16},"encoding":{"x":{"field":"x","type":"quantitative","scale":{"domain":[0,400],"nice":false},"axis":{"values":[0,100,200,300,400],"tickCount":20,"format":"d","labelOverlap":false,"title":"Tyrosine"}},"y":{"field":"y","type":"quantitative","scale":{"domain":[0,140],"nice":false},"axis":{"values":[0,20,40,60,80,100,120,140],"tickCount":20,"format":"d","labelOverlap":false,"title":"Species Lifespan"}},"color":{"field":"group","type":"nominal","scale":{"domain":["Birds","Primates"],"range":["#1f7a1f","#f29a5f"]},"legend":{"orient":"top-left","title":null}},"shape":{"field":"group","type":"nominal","scale":{"domain":["Birds","Primates"],"range":["triangle-up","circle"]},"legend":{"orient":"top-left","title":null}}}},
 {"data":{"name":"trend"},"transform":[{"filter":"datum.panel==='Tyrosine'"}],"mark":{"type":"line","strokeWidth":1.2},"encoding":{"x":{"field":"x","type":"quantitative"},"y":{"field":"y","type":"quantitative"},"color":{"field":"group","type":"nominal","legend":null}}},
 {"data":{"name":"hum"},"transform":[{"filter":"datum.panel==='Tyrosine'"}],"mark":{"type":"point","shape":"triangle-down","filled":true,"color":"#f29a5f","size":14,"opacity":1},"encoding":{"x":{"field":"x","type":"quantitative"},"y":{"field":"y","type":"quantitative"}}},
 {"data":{"name":"hum"},"transform":[{"filter":"datum.panel==='Tyrosine'"}],"mark":{"type":"text","align":"left","dx":4,"fontSize":9,"fontWeight":"bold","baseline":"middle","color":"#111"},"encoding":{"x":{"field":"x","type":"quantitative"},"y":{"field":"y","type":"quantitative"},"text":{"field":"label"}}}
]},
{"width":168,"height":117,"layer":[
 {"data":{"name":"pts"},"transform":[{"filter":"datum.panel==='Valine'"}],"mark":{"type":"point","filled":true,"opacity":1,"size":16},"encoding":{"x":{"field":"x","type":"quantitative","scale":{"domain":[0,400],"nice":false},"axis":{"values":[0,100,200,300,400],"tickCount":20,"format":"d","labelOverlap":false,"title":"Valine"}},"y":{"field":"y","type":"quantitative","scale":{"domain":[0,140],"nice":false},"axis":{"values":[0,20,40,60,80,100,120,140],"tickCount":20,"format":"d","labelOverlap":false,"title":"Species Lifespan"}},"color":{"field":"group","type":"nominal","scale":{"domain":["Birds","Primates"],"range":["#1f7a1f","#f29a5f"]},"legend":{"orient":"top-left","title":null}},"shape":{"field":"group","type":"nominal","scale":{"domain":["Birds","Primates"],"range":["triangle-up","circle"]},"legend":{"orient":"top-left","title":null}}}},
 {"data":{"name":"trend"},"transform":[{"filter":"datum.panel==='Valine'"}],"mark":{"type":"line","strokeWidth":1.2},"encoding":{"x":{"field":"x","type":"quantitative"},"y":{"field":"y","type":"quantitative"},"color":{"field":"group","type":"nominal","legend":null}}},
 {"data":{"name":"hum"},"transform":[{"filter":"datum.panel==='Valine'"}],"mark":{"type":"point","shape":"triangle-down","filled":true,"color":"#f29a5f","size":14,"opacity":1},"encoding":{"x":{"field":"x","type":"quantitative"},"y":{"field":"y","type":"quantitative"}}},
 {"data":{"name":"hum"},"transform":[{"filter":"datum.panel==='Valine'"}],"mark":{"type":"text","align":"left","dx":4,"fontSize":9,"fontWeight":"bold","baseline":"middle","color":"#111"},"encoding":{"x":{"field":"x","type":"quantitative"},"y":{"field":"y","type":"quantitative"},"text":{"field":"label"}}}
]}
]
}
